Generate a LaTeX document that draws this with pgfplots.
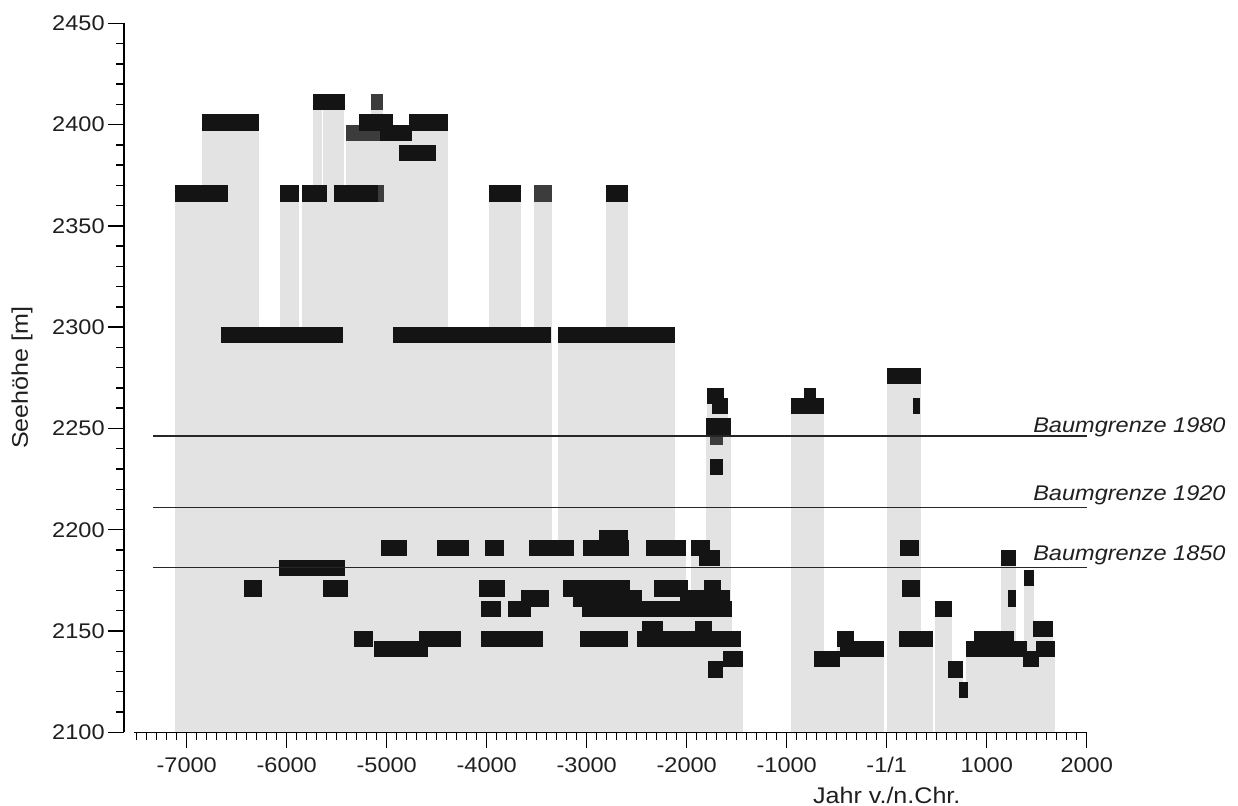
\documentclass[border=0pt]{standalone}
\usepackage{fontspec}
\setmainfont{Liberation Sans}[FakeStretch=1.11]
\usepackage{pgfplots}
\pgfplotsset{compat=1.18}
\usepackage{pgfplotstable}
\definecolor{colGrey}{HTML}{E3E3E3}
\definecolor{colBlack}{HTML}{141414}
\definecolor{colDark}{HTML}{3C3C3C}

% x1 x2 = dating range (years), y = elevation (m), k: 0 black+column, 1 dark+column, 2 column only, 3 black only
\pgfplotstableread{
x1 x2 y k
-7117 -6584 2366 0
-6844 -6280 2401 0
-6064 -5877 2366 0
-5844 -5597 2366 0
-5524 -5084 2366 0
-5084 -5024 2366 1
-5740 -5417 2411 3
-5740 -5650 2411 2
-5634 -5430 2411 2
-5160 -5034 2411 1
-5410 -5067 2396 1
-5274 -4940 2401 0
-5067 -4750 2396 0
-4874 -4507 2386 0
-4774 -4384 2401 0
-3974 -3660 2366 0
-3530 -3350 2366 1
-2804 -2590 2366 0
-6660 -5440 2296 0
-4940 -3360 2296 0
-3287 -2114 2296 0
-1767 -1634 2246 1
-1800 -1624 2266 0
-1750 -1590 2261 0
-1810 -1554 2251 0
-1767 -1640 2231 0
-960 -630 2261 0
-824 -710 2266 0
-2 346 2276 0
263 336 2261 0
133 326 2191 0
156 333 2171 0
123 463 2146 0
483 650 2161 0
616 766 2131 0
723 816 2121 0
-730 -470 2136 0
-497 -330 2146 0
-464 -27 2141 0
876 1273 2146 0
796 1400 2141 0
1143 1290 2186 0
1376 1470 2176 0
1216 1290 2166 0
1466 1666 2151 0
1490 1683 2141 0
1366 1523 2136 0
-6080 -5417 2181 0
-6427 -6244 2171 0
-5637 -5390 2171 0
-5324 -5140 2146 0
-5130 -4590 2141 0
-4674 -4257 2146 0
-5057 -4797 2191 0
-4497 -4180 2191 0
-4017 -3824 2191 0
-4080 -3820 2171 0
-4060 -3857 2161 0
-3787 -3557 2161 0
-4060 -3434 2146 0
-3657 -3377 2166 0
-3577 -3130 2191 0
-3037 -2580 2191 0
-2874 -2584 2196 0
-2410 -2010 2191 0
-1960 -1764 2191 0
-1874 -1664 2186 0
-3240 -2567 2171 0
-2327 -1990 2171 0
-1824 -1657 2171 0
-3134 -2444 2166 0
-2067 -1567 2166 0
-3050 -1550 2161 0
-3067 -2584 2146 0
-2494 -1460 2146 0
-2444 -2234 2151 0
-1920 -1744 2151 0
-1640 -1434 2136 0
-1790 -1634 2131 0
}\rects
\pgfplotstablegetrowsof{\rects}
\pgfmathtruncatemacro\nrects{\pgfplotsretval-1}

\newcommand\rectpass[1]{%
 \pgfplotsforeachungrouped \i in {0,...,\nrects}{%
   \pgfplotstablegetelem{\i}{x1}\of\rects \let\xa\pgfplotsretval
   \pgfplotstablegetelem{\i}{x2}\of\rects \let\xb\pgfplotsretval
   \pgfplotstablegetelem{\i}{y}\of\rects \let\yc\pgfplotsretval
   \pgfplotstablegetelem{\i}{k}\of\rects \let\kk\pgfplotsretval
   \pgfmathsetmacro\ylo{\yc-4}%
   \pgfmathsetmacro\yhi{\yc+4}%
   \def\doit{0}%
   \ifcase#1\relax
     \ifnum\kk<3 \def\doit{1}\fi
   \or
     \ifnum\kk=1 \def\doit{2}\fi
   \or
     \ifnum\kk=0 \def\doit{3}\fi
     \ifnum\kk=3 \def\doit{3}\fi
   \fi
   \ifnum\doit=1
     \edef\cmd{\noexpand\addplot[draw=none,fill=colGrey,forget plot] coordinates {(\xa,2100) (\xa,\ylo) (\xb,\ylo) (\xb,2100)};}\cmd
   \fi
   \ifnum\doit=2
     \edef\cmd{\noexpand\addplot[draw=none,fill=colDark,forget plot] coordinates {(\xa,\ylo) (\xa,\yhi) (\xb,\yhi) (\xb,\ylo)};}\cmd
   \fi
   \ifnum\doit=3
     \edef\cmd{\noexpand\addplot[draw=none,fill=colBlack,forget plot] coordinates {(\xa,\ylo) (\xa,\yhi) (\xb,\yhi) (\xb,\ylo)};}\cmd
   \fi
 }%
}

\begin{document}
\begin{tikzpicture}
\path[use as bounding box] (0,0) rectangle (619pt,403pt);
\begin{axis}[
  at={(62pt,36.85pt)}, anchor=south west,
  scale only axis, width=481.35pt, height=354.5pt,
  xmin=-7627, xmax=2000, ymin=2100, ymax=2450,
  axis x line*=bottom, axis y line*=left,
  x axis line style={draw=none},
  y axis line style={-, line width=0.75pt, black},
  xtick={-7000,-6000,...,2000},
  xticklabels={-7000,-6000,-5000,-4000,-3000,-2000,-1000,-1/1,1000,2000},
  minor xtick={-7500,-7400,...,2000},
  ytick={2100,2150,...,2450},
  yticklabels={2100,2150,2200,2250,2300,2350,2400,2450},
  minor ytick={2110,2120,...,2440},
  tick align=outside,
  major tick length=8pt, minor tick length=4pt,
  tick style={line width=0.7pt, black},
  minor tick style={line width=0.7pt, black},
  tick label style={font=\fontsize{10.6}{12}\selectfont, text=black!88, inner sep=0pt},
  xticklabel style={anchor=north, yshift=-4.35pt},
  yticklabel style={anchor=east, xshift=-1.5pt},
  clip=false,
  xlabel={Jahr v./n.Chr.},
  xlabel style={at={(axis description cs:0.7923,0)}, anchor=north, yshift=-27.3pt, inner sep=0pt, font=\fontsize{11.3}{13}\selectfont, text=black!88},
  ylabel={Seehöhe [m]},
  ylabel style={at={(axis description cs:0,0.5)}, anchor=center, yshift=51pt, inner sep=0pt, font=\fontsize{11.3}{13}\selectfont, text=black!88},
]
\rectpass{0}
\rectpass{1}
\rectpass{2}
\addplot[line width=0.85pt, color=black!85, forget plot] coordinates {(-7334,2246.3) (2000,2246.3)};
\addplot[line width=0.85pt, color=black!85, forget plot] coordinates {(-7334,2210.9) (2000,2210.9)};
\addplot[line width=0.5pt, color=black!85, forget plot] coordinates {(-7334,2181.5) (2000,2181.5)};
\draw[line width=0.75pt, black] (axis cs:-7527,2100) -- (axis cs:2000,2100);
\node[anchor=base east, inner sep=0pt, font=\fontsize{10.6}{12}\selectfont\itshape, text=black!88] at (axis cs:3393,2248.0) {Baumgrenze 1980};
\node[anchor=base east, inner sep=0pt, font=\fontsize{10.6}{12}\selectfont\itshape, text=black!88] at (axis cs:3393,2214.2) {Baumgrenze 1920};
\node[anchor=base east, inner sep=0pt, font=\fontsize{10.6}{12}\selectfont\itshape, text=black!88] at (axis cs:3393,2184.6) {Baumgrenze 1850};
\end{axis}
\end{tikzpicture}
\end{document}
